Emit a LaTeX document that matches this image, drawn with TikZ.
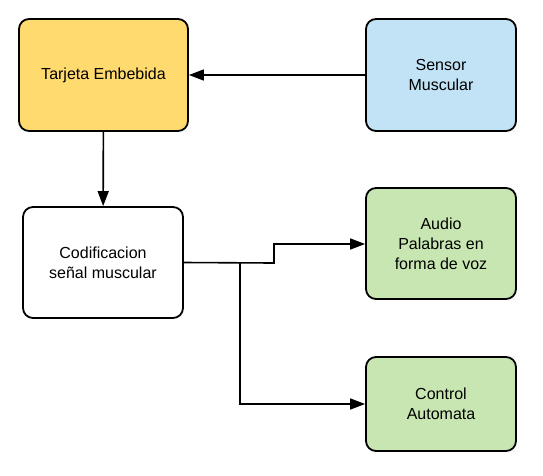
\documentclass[tikz,border=0pt]{standalone}
\usepackage{fontspec}
\setmainfont{Liberation Sans}
\usetikzlibrary{arrows.meta,positioning}

\tikzset{
  block/.style={draw=black,line width=1.8pt,rounded corners=10pt,align=center,
    inner sep=0pt,font=\fontsize{16}{20}\selectfont},
  link/.style={line width=1.6pt,-{Triangle[length=15pt,width=11pt]}}
}

\begin{document}
\begin{tikzpicture}[x=1pt,y=-1pt]
  \useasboundingbox (0,0) rectangle (543,475);
  \node[block,fill={rgb,255:red,255;green,218;blue,110},minimum width=169pt,minimum height=112pt] (tarjeta) at (103.5,75) {Tarjeta Embebida};
  \node[block,fill={rgb,255:red,194;green,227;blue,245},minimum width=150pt,minimum height=112pt] (sensor) at (441,75) {Sensor\\Muscular};
  \node[block,fill=white,minimum width=160pt,minimum height=111pt] (codif) at (103,262.5) {Codificacion\\señal muscular};
  \node[block,fill={rgb,255:red,200;green,230;blue,177},minimum width=150pt,minimum height=111pt] (audio) at (441,243.5) {Audio\\Palabras en\\forma de voz};
  \node[block,fill={rgb,255:red,200;green,230;blue,177},minimum width=150pt,minimum height=94pt] (control) at (441,404) {Control\\Automata};
  \coordinate (split) at (240,263);
  \draw[link] (sensor) -- (tarjeta);
  \draw[link] (tarjeta) -- (codif);
  \draw[link] (codif.east) -- (274,263) -- (274,244) -- (audio.west |- 0,244);
  \draw[link] (split) |- (control.west);
\end{tikzpicture}
\end{document}
